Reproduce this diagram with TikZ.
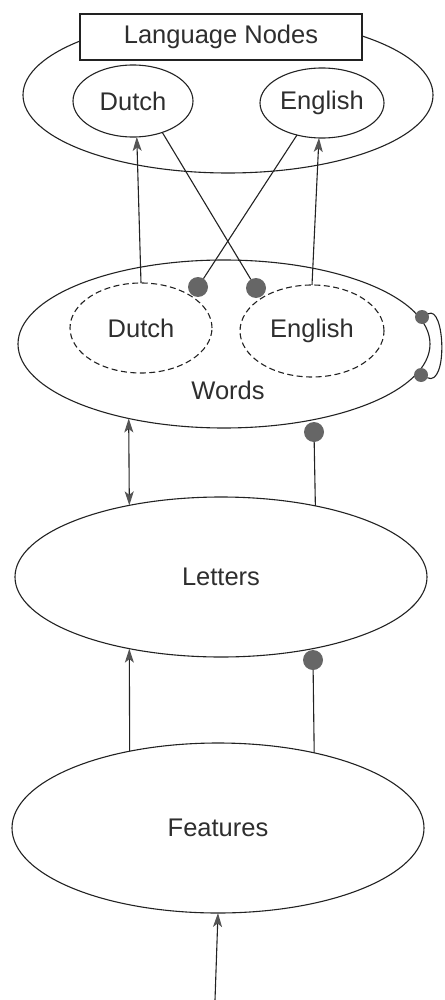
\documentclass[tikz,border=0pt]{standalone}
\usepackage{fontspec}
\setmainfont{Liberation Sans}
\usetikzlibrary{shapes.geometric,arrows.meta}
\definecolor{ink}{HTML}{222222}
\definecolor{txt}{HTML}{2E2E2E}
\definecolor{dotc}{HTML}{666666}
\definecolor{tipc}{HTML}{555555}
\tikzset{
  tip/.tip={Stealth[length=14pt,width=9pt,inset=3.5pt,color=tipc]},
  layer/.style={ellipse,draw=ink,line width=1.1pt,inner sep=0pt,outer sep=0pt,
    text=txt,font=\fontsize{25.5}{30}\selectfont},
  pool/.style={layer,dash pattern=on 6pt off 3.5pt},
  label/.style={text=txt,font=\fontsize{25.5}{30}\selectfont,inner sep=0pt},
  titlebox/.style={draw=ink,fill=white,line width=1.1pt,inner sep=0pt,
    minimum width=282pt,minimum height=46pt,text=txt,font=\fontsize{25.5}{30}\selectfont},
  link/.style={draw=ink,line width=1.1pt},
  excite/.style={link,-tip},
  both/.style={link,tip-tip},
  bigdot/.style={circle,fill=dotc,inner sep=0pt,outer sep=0pt,minimum size=20pt},
  smalldot/.style={circle,fill=dotc,inner sep=0pt,outer sep=0pt,minimum size=14pt},
}
\begin{document}
\begin{tikzpicture}[x=1pt,y=-1pt]
\useasboundingbox (0,0) rectangle (444,1000);

% language node layer
\node[layer,minimum width=410pt,minimum height=156pt] (lang) at (228,95) {};
\node[titlebox] (title) at (221,37) {Language Nodes};
\node[layer,minimum width=120pt,minimum height=72pt] (ldutch) at (133,101) {Dutch};
\node[layer,minimum width=124pt,minimum height=70pt] (lenglish) at (322,103) {English};

% word layer with two language pools
\node[layer,minimum width=412pt,minimum height=168pt] (words) at (224,344) {};
\node[pool,minimum width=142pt,minimum height=90pt] (wdutch) at (141,328) {Dutch};
\node[pool,minimum width=144pt,minimum height=92pt] (wenglish) at (312,331) {English};
\node[label] (wordslabel) at (228,390) {Words};

% letter and feature layers
\node[layer,minimum width=412pt,minimum height=160pt] (letters) at (221,577) {Letters};
\node[layer,minimum width=412pt,minimum height=170pt] (features) at (218,828) {Features};

% inhibitory end points
\node[bigdot] (inhD) at (198,287) {};
\node[bigdot] (inhE) at (256,288) {};
\node[smalldot] (lat1) at (422,317) {};
\node[smalldot] (lat2) at (421,375) {};
\node[bigdot] (inhW) at (314,432) {};
\node[bigdot] (inhL) at (313,660) {};
\coordinate (input) at (215,1000);

% word pools to language nodes
\draw[excite] (wdutch.north) -- (ldutch.-84);
\draw[excite] (wenglish.north) -- (lenglish.-95);
\draw[link] (ldutch.-47) -- (inhE);
\draw[link] (lenglish.-128) -- (inhD);

% lateral inhibition within the word layer
\draw[link] (lat1) .. controls (445,305) and (448,387) .. (lat2);

% words and letters
\draw[both] (words.-142) -- (letters.142);
\draw[link] (letters.37.5) -- (inhW);

% letters and features
\draw[excite] (features.139.2) -- (letters.-142);
\draw[link] (features.38.4) -- (inhL);

% external input
\draw[excite] (input) -- (features.south);
\end{tikzpicture}
\end{document}
